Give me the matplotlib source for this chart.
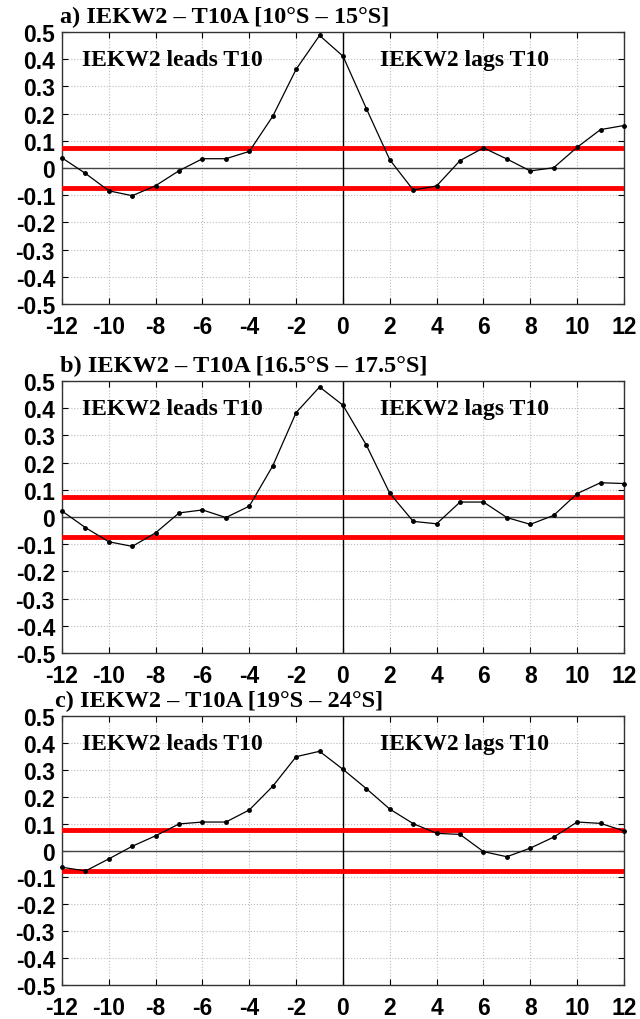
import matplotlib
matplotlib.use("Agg")
import matplotlib.pyplot as plt
import numpy as np

lags = list(range(-12, 13))
corr_a = [0.037, -0.02, -0.084, -0.102, -0.065, -0.01, 0.034, 0.034, 0.061, 0.19, 0.363, 0.487,
          0.411, 0.218, 0.03, -0.081, -0.066, 0.027, 0.074, 0.033, -0.011, 0.001, 0.076, 0.141, 0.156]
corr_b = [0.022, -0.039, -0.091, -0.108, -0.058, 0.015, 0.026, -0.002, 0.04, 0.188, 0.384, 0.478,
          0.411, 0.264, 0.087, -0.016, -0.025, 0.055, 0.055, -0.002, -0.027, 0.006, 0.086, 0.126, 0.123]
corr_c = [-0.062, -0.076, -0.031, 0.016, 0.055, 0.099, 0.106, 0.106, 0.151, 0.239, 0.349, 0.369,
          0.302, 0.23, 0.154, 0.1, 0.064, 0.06, -0.004, -0.023, 0.009, 0.05, 0.106, 0.101, 0.073]
titles = ["a) IEKW2 \u2013 T10A [10\u00b0S \u2013 15\u00b0S]",
          "b) IEKW2 \u2013 T10A [16.5\u00b0S \u2013 17.5\u00b0S]",
          "c) IEKW2 \u2013 T10A [19\u00b0S \u2013 24\u00b0S]"]
signif = 0.075
xticks = list(range(-12, 13, 2))
yticks = [round(v, 1) for v in np.arange(-0.5, 0.51, 0.1)]
ytick_labels = ["-0.5", "-0.4", "-0.3", "-0.2", "-0.1", "0", "0.1", "0.2", "0.3", "0.4", "0.5"]
lead_text = "IEKW2 leads T10"
lag_text = "IEKW2 lags T10"

fig = plt.figure(figsize=(6.4, 10.2), dpi=100)
boxes = [(0.0969, 0.7010, 0.878, 0.2667),
         (0.0969, 0.3588, 0.878, 0.2667),
         (0.0969, 0.0333, 0.878, 0.2637)]
title_x = [-0.003, -0.003, -0.012]
tickfont = dict(family=["Liberation Sans", "DejaVu Sans"], weight="bold", size=16.5)
serif = dict(family=["Liberation Serif", "DejaVu Serif"], weight="bold")

for box, data, title, tx in zip(boxes, [corr_a, corr_b, corr_c], titles, title_x):
    ax = fig.add_axes(box)
    ax.set_xlim(-12, 12)
    ax.set_ylim(-0.5, 0.5)
    ax.set_xticks(xticks)
    ax.set_yticks(yticks)
    ax.set_xticklabels([str(t) for t in xticks], **tickfont)
    ax.set_yticklabels(ytick_labels, **tickfont)
    ax.tick_params(direction="in", length=4, width=0.8, top=True, right=True)
    ax.tick_params(axis="x", pad=8)
    ax.tick_params(axis="y", pad=5)
    ax.grid(True, linestyle=":", color="#bbbbbb", linewidth=0.8)
    ax.axhline(0, color="#444444", linewidth=1.0, zorder=2)
    ax.axvline(0, color="black", linewidth=1.0, zorder=2)
    ax.axhline(signif, color="red", linewidth=3.5, zorder=3)
    ax.axhline(-signif, color="red", linewidth=3.5, zorder=3)
    ax.plot(lags, data, color="black", linewidth=0.9, marker="o", markersize=2.5, zorder=4, clip_on=False)
    for s in ax.spines.values():
        s.set_color("#333333")
        s.set_linewidth(1.0)
    ax.text(-11.15, 0.398, lead_text, fontsize=17, va="center", ha="left", **serif)
    ax.text(1.6, 0.398, lag_text, fontsize=17, va="center", ha="left", **serif)
    ax.text(tx, 1.018, title, transform=ax.transAxes, fontsize=17.5, ha="left", va="bottom", **serif)

fig.savefig("out.png", dpi=100)
